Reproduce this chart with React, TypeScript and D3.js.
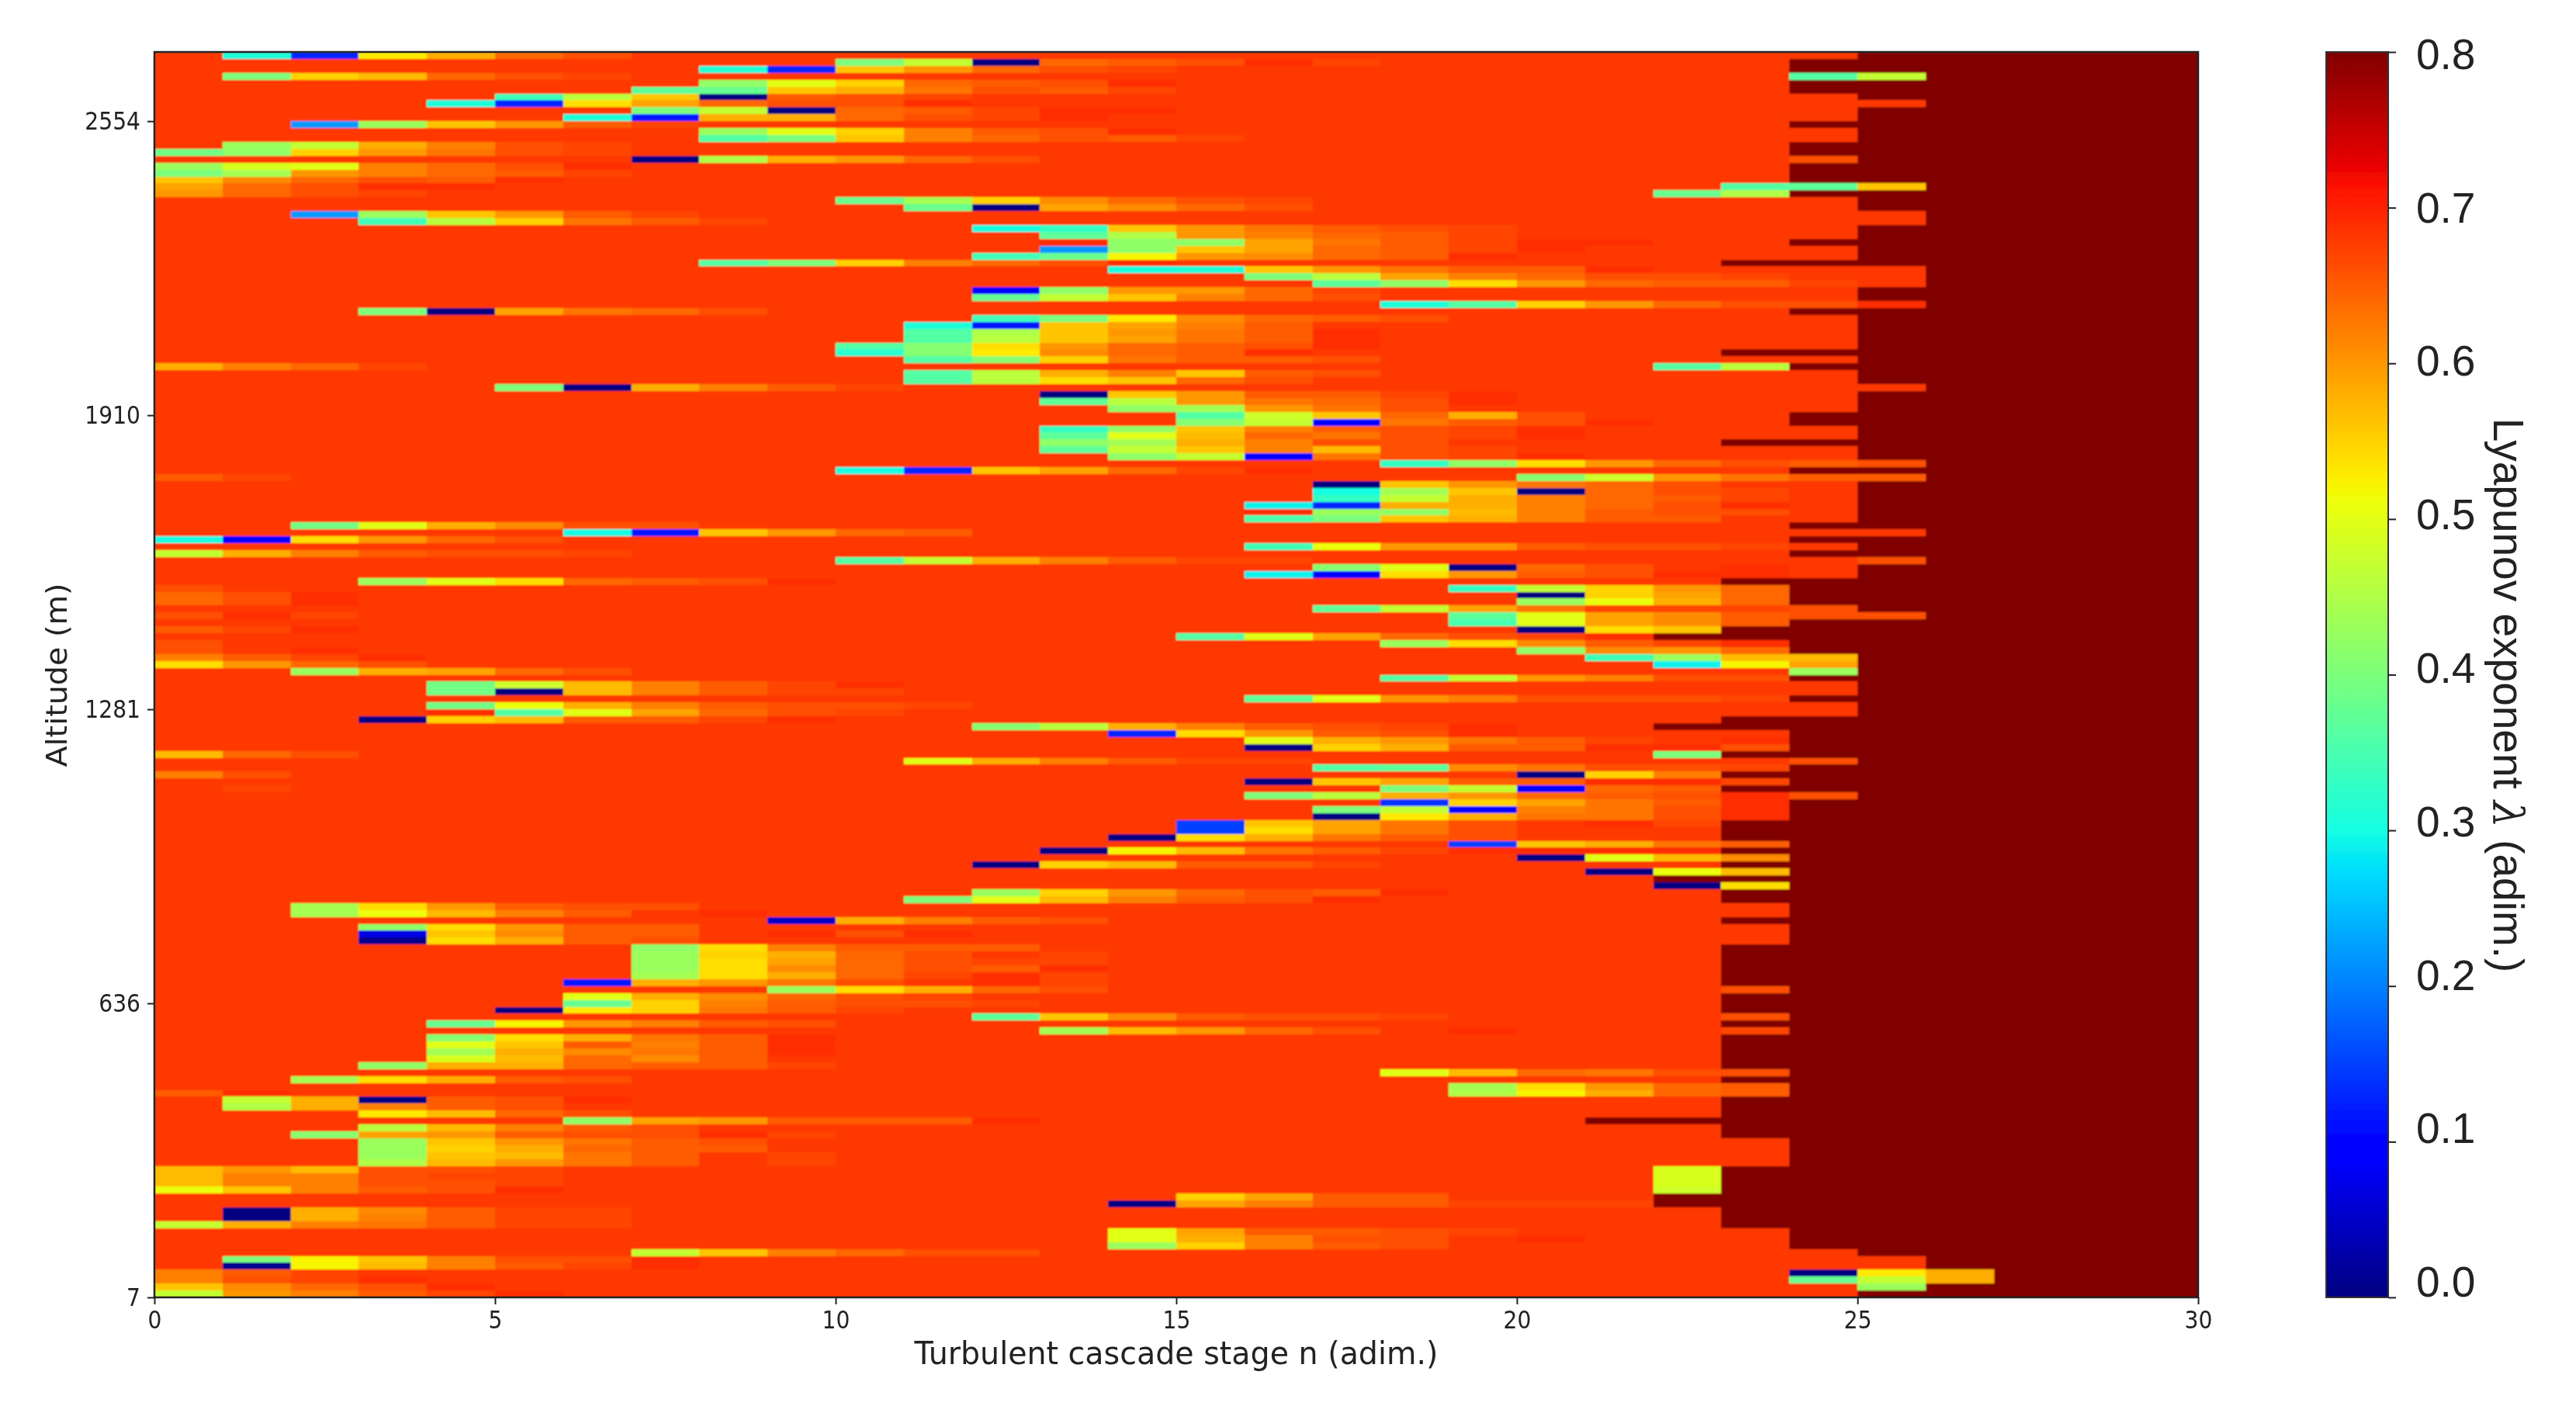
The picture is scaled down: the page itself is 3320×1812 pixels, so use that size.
import * as d3 from "d3";
import { useEffect, useRef } from "react";

// cascade stages (x) and altitude rows (y), row 0 is the top of the plot
const stageTicks = [0, 5, 10, 15, 20, 25, 30];
const altitudeLabels = ["7", "636", "1281", "1910", "2554"];
const altitudeTickRows = [0, 42.5, 85, 127.5, 170]; // counted from the bottom
const colorbarTicks = [0, 0.1, 0.2, 0.3, 0.4, 0.5, 0.6, 0.7, 0.8];
const rowCount = 180;
const stageCount = 30;
const backgroundValue = 0.68;
const saturatedValue = 0.8;

// first stage of each row where the exponent sits at its 0.8 plateau
const plateauStart = [
  25, 24, 24, 26, 24, 24, 25, 26, 25, 25, 24, 25, 25, 24, 24, 25, 24, 24, 24, 26,
  24, 25, 25, 26, 26, 25, 25, 24, 25, 25, 23, 26, 26, 26, 25, 25, 26, 24, 25, 25,
  25, 25, 25, 23, 25, 24, 25, 25, 26, 25, 25, 25, 24, 24, 25, 25, 23, 25, 25, 26,
  24, 26, 25, 25, 25, 25, 25, 25, 24, 26, 24, 25, 24, 26, 25, 25, 23, 24, 24, 24,
  25, 26, 24, 23, 22, 24, 24, 25, 25, 25, 24, 25, 25, 24, 25, 25, 23, 22, 24, 24,
  24, 23, 25, 24, 23, 24, 23, 25, 24, 24, 24, 23, 23, 23, 24, 23, 24, 23, 24, 22,
  24, 23, 23, 24, 24, 23, 24, 24, 24, 23, 23, 23, 23, 23, 23, 24, 23, 23, 23, 24,
  23, 24, 23, 23, 23, 23, 23, 24, 23, 24, 24, 23, 23, 23, 21, 23, 23, 24, 24, 24,
  24, 23, 23, 23, 23, 22, 22, 23, 23, 23, 24, 24, 24, 25, 26, 26, 27, 27, 26, 25,
];

// [row, first stage, lambda x 100 ...] runs that differ from the background
const runs: number[][] = [
  [0, 1, 31, 13, 53, 58, 64, 66],
  [1, 10, 40, 47, 0, 64, 65, 66, 69, 67],
  [2, 8, 31, 13, 56, 60, 64, 66, 67],
  [3, 1, 40, 55, 57, 64, 66, 67],
  [3, 24, 36, 47],
  [4, 8, 42, 50, 55, 64, 65, 66, 69],
  [5, 7, 37, 38, 56, 58, 63, 66, 65, 67],
  [6, 5, 34, 46, 56, 0, 65, 66, 67],
  [7, 4, 31, 13, 54, 59, 64, 66, 66, 69],
  [8, 7, 40, 47, 0, 64, 65, 67, 69, 69],
  [9, 6, 31, 12, 58, 58, 64, 66, 67, 69],
  [10, 2, 22, 43, 56, 60, 65, 67],
  [11, 8, 43, 50, 55, 62, 65, 66, 69],
  [12, 8, 36, 40, 56, 62, 64, 66, 65, 67],
  [13, 1, 43, 47, 58, 62, 66, 67],
  [14, 0, 39, 42, 55, 60, 63, 66, 67],
  [15, 7, 0, 45, 58, 60, 64, 66],
  [15, 24, 66],
  [16, 0, 43, 49, 50, 62, 64, 66, 69],
  [17, 0, 40, 44, 60, 62, 64, 65, 67],
  [18, 0, 56, 61, 64, 66, 65, 69],
  [19, 0, 59, 64, 66, 69, 69],
  [19, 23, 36, 37, 56],
  [20, 0, 60, 64, 66, 67],
  [20, 22, 38, 45],
  [21, 10, 38, 44, 55, 61, 64, 66, 67],
  [22, 11, 38, 0, 59, 61, 64, 66],
  [23, 2, 22, 43, 56, 60, 65, 67],
  [24, 3, 34, 46, 55, 63, 65, 67],
  [25, 12, 30, 33, 56, 60, 63, 65, 66, 67],
  [26, 13, 37, 45, 60, 62, 64, 65, 67],
  [27, 13, 69, 42, 42, 59, 63, 65, 67, 69, 69],
  [28, 13, 22, 42, 56, 59, 64, 65, 67, 69],
  [29, 12, 34, 38, 52, 60, 61, 64, 65, 69],
  [30, 8, 36, 40, 55, 62, 64, 66, 69],
  [31, 14, 30, 31, 56, 60, 63, 65, 65, 69],
  [32, 16, 40, 46, 59, 62, 64, 66, 66, 67],
  [33, 17, 37, 42, 54, 60, 64, 65, 65, 67],
  [34, 12, 9, 42, 60, 60, 64, 67],
  [35, 12, 38, 47, 56, 62, 64, 66],
  [36, 18, 31, 36, 55, 60, 64, 66, 66, 69],
  [37, 3, 40, 0, 59, 63, 64, 66],
  [38, 12, 34, 40, 53, 61, 64, 65, 66],
  [39, 11, 31, 12, 56, 59, 62, 65, 68],
  [40, 11, 36, 45, 56, 60, 63, 65, 69],
  [41, 11, 36, 46, 56, 59, 63, 65, 69],
  [42, 10, 36, 41, 54, 60, 64, 65, 66, 69],
  [43, 10, 32, 41, 53, 61, 64, 65, 69],
  [44, 11, 36, 41, 55, 63, 65, 65, 66],
  [45, 0, 58, 62, 64, 67],
  [45, 22, 36, 46],
  [46, 11, 36, 46, 58, 62, 56, 65, 66],
  [47, 11, 36, 46, 54, 56, 64, 66],
  [48, 5, 40, 0, 58, 62, 65, 67],
  [49, 13, 0, 56, 60, 65, 65, 67, 69],
  [50, 13, 37, 46, 60, 63, 64, 66, 69],
  [51, 14, 42, 44, 60, 63, 66, 68],
  [52, 15, 36, 48, 56, 64, 58, 66],
  [53, 15, 41, 47, 9, 63, 65, 66, 69],
  [54, 13, 33, 42, 56, 62, 65, 66, 67, 69],
  [55, 13, 37, 50, 57, 64, 63, 66, 67, 69],
  [56, 13, 42, 44, 58, 62, 66, 66, 68],
  [57, 13, 37, 47, 56, 62, 57, 66, 67],
  [58, 14, 42, 47, 9, 63, 66, 67, 69],
  [59, 18, 33, 42, 54, 60, 64, 66, 65, 66],
  [60, 10, 30, 13, 56, 59, 64, 67, 69],
  [61, 0, 65, 67],
  [61, 20, 41, 48, 60, 63, 65, 65],
  [62, 17, 0, 56, 60, 63, 64, 66],
  [63, 17, 30, 44, 56, 0, 64, 66, 67],
  [64, 17, 33, 47, 58, 62, 64, 65, 67],
  [65, 16, 29, 13, 58, 58, 62, 64, 66, 69],
  [66, 16, 69, 43, 42, 57, 62, 65, 66, 66],
  [67, 16, 35, 40, 56, 58, 62, 65, 65],
  [68, 2, 39, 50, 58, 61, 66, 66],
  [69, 6, 30, 12, 56, 60, 64, 65],
  [70, 0, 30, 9, 54, 60, 64, 66],
  [71, 16, 34, 51, 60, 60, 65, 66, 66, 67],
  [72, 0, 47, 58, 62, 65, 66, 66, 67],
  [73, 10, 36, 47, 58, 62, 65, 67, 67],
  [73, 25, 66],
  [74, 17, 41, 50, 0, 64, 66, 68, 69],
  [75, 16, 29, 9, 54, 60, 65, 66, 69, 69],
  [76, 3, 43, 50, 54, 64, 65, 66, 69],
  [77, 0, 66],
  [77, 19, 33, 47, 55, 60, 64],
  [78, 0, 64, 66, 69],
  [78, 20, 0, 55, 59, 64],
  [79, 0, 64, 66, 69],
  [79, 20, 43, 51, 58, 64],
  [80, 17, 37, 47, 59, 63, 67, 67, 67, 66],
  [81, 0, 66, 69, 67],
  [81, 19, 37, 50, 59, 61, 65, 66, 66],
  [82, 19, 35, 50, 59, 61, 65],
  [83, 0, 65, 67, 69],
  [83, 20, 0, 54, 56],
  [84, 15, 36, 50, 59, 64, 66, 67, 69],
  [85, 0, 66],
  [85, 18, 43, 54, 61, 65, 67, 69],
  [86, 0, 66, 68, 69],
  [86, 20, 42, 61, 60, 64],
  [87, 0, 62, 65, 67, 69],
  [87, 21, 34, 43, 57, 57],
  [88, 0, 54, 60, 64, 66],
  [88, 22, 29, 52, 59],
  [89, 2, 43, 58, 59, 64, 66],
  [89, 24, 43],
  [90, 18, 36, 47, 60, 62, 66, 66],
  [91, 4, 39, 48, 57, 62, 65, 67, 69],
  [92, 4, 39, 0, 57, 62, 65, 67, 67],
  [93, 16, 37, 50, 60, 62, 66, 66, 66, 67],
  [94, 4, 39, 51, 58, 62, 65, 66, 66, 67],
  [95, 4, 69, 36, 50, 59, 64, 66, 67],
  [96, 3, 0, 55, 57, 65, 65, 67, 69],
  [97, 12, 41, 46, 58, 62, 65, 66, 67, 69],
  [98, 14, 13, 54, 60, 65, 66, 69],
  [99, 16, 50, 58, 60, 63, 65, 67],
  [99, 23, 69],
  [100, 16, 0, 55, 58, 65, 65, 69, 69, 66],
  [101, 0, 57, 64, 66],
  [101, 22, 40],
  [102, 11, 50, 58, 62, 65, 67, 67],
  [102, 24, 66],
  [103, 17, 36, 37, 61, 63, 66, 66, 67],
  [104, 0, 62, 66],
  [104, 20, 0, 55, 62],
  [105, 16, 0, 56, 59, 65, 65, 69, 69, 67],
  [106, 1, 67],
  [106, 18, 40, 47, 9, 64, 65],
  [107, 16, 40, 46, 58, 60, 64, 65, 66, 69, 66],
  [108, 18, 14, 55, 59, 63, 65, 69],
  [109, 17, 40, 47, 9, 62, 63, 66, 69],
  [110, 17, 0, 53, 58, 63, 63, 66, 69],
  [111, 15, 15, 56, 59, 63, 66, 68, 69, 67],
  [112, 15, 15, 54, 59, 63, 66],
  [113, 14, 0, 54, 58, 63, 65, 66],
  [114, 19, 15, 56, 58, 63, 65],
  [115, 13, 0, 52, 57, 63, 65, 67, 69, 69, 69, 69],
  [116, 20, 0, 50, 57, 61],
  [117, 12, 0, 55, 57, 65, 65, 67],
  [118, 21, 0, 51, 57],
  [120, 22, 0, 54],
  [121, 12, 43, 55, 60, 64, 66, 65, 69],
  [122, 11, 40, 50, 57, 62, 65, 66, 69],
  [123, 2, 44, 54, 60, 65, 66, 66],
  [124, 2, 44, 51, 57, 62, 65, 68, 69],
  [125, 9, 5, 58, 62, 65, 66, 68],
  [126, 3, 42, 54, 60, 65, 65],
  [127, 3, 7, 56, 61, 65, 65],
  [127, 9, 69, 66, 69],
  [128, 3, 1, 54, 58, 65, 66],
  [129, 7, 42, 54, 62, 65, 65, 65],
  [130, 7, 43, 55, 58, 64, 66, 68, 67],
  [131, 7, 43, 54, 59, 64, 66, 67, 67],
  [132, 7, 43, 54, 61, 64, 66, 65, 69],
  [133, 7, 44, 54, 58, 64, 67, 69, 67],
  [134, 6, 12, 58, 60, 63, 66, 68, 69, 67],
  [135, 9, 43, 54, 58, 64, 66, 68],
  [135, 23, 66],
  [136, 6, 50, 58, 61, 64, 66, 67],
  [137, 6, 38, 55, 62, 65, 66, 66, 67],
  [138, 5, 0, 53, 55, 63, 65, 67],
  [139, 12, 37, 56, 61, 65, 66, 66, 67],
  [139, 23, 66],
  [140, 4, 38, 52, 60, 62, 65, 66],
  [141, 13, 44, 57, 60, 64, 66],
  [141, 19, 69],
  [141, 23, 67],
  [142, 4, 41, 54, 58, 63, 65, 69],
  [143, 4, 50, 56, 65, 62, 65, 69],
  [144, 4, 44, 58, 61, 63, 65, 69],
  [145, 4, 49, 57, 64, 61, 65, 68],
  [146, 3, 42, 58, 58, 64, 65, 65, 67],
  [147, 18, 50, 57, 64, 63, 66, 66],
  [148, 2, 44, 54, 58, 65, 66, 68],
  [149, 19, 44, 54, 60, 64, 65],
  [150, 0, 65, 69],
  [150, 19, 45, 52, 58, 64, 65],
  [151, 1, 47, 58, 0, 65, 66, 69],
  [152, 1, 45, 58, 62, 65, 66, 68],
  [153, 3, 53, 57, 64, 66],
  [154, 6, 42, 59, 60, 65, 65, 65, 69],
  [155, 3, 46, 57, 62, 65, 66],
  [156, 2, 41, 59, 60, 65, 66, 66, 69, 67],
  [157, 3, 43, 56, 60, 63, 65, 66],
  [158, 3, 43, 55, 58, 64, 65, 65],
  [159, 3, 43, 56, 57, 63, 65, 68, 67],
  [160, 3, 45, 57, 60, 63, 65, 68, 67],
  [161, 0, 57, 60, 57, 66, 66, 67],
  [161, 22, 49],
  [162, 0, 57, 62, 62, 66, 67, 67],
  [162, 22, 49],
  [163, 0, 57, 62, 62, 66, 66, 67],
  [163, 22, 49],
  [164, 0, 51, 56, 62, 65, 66, 69],
  [164, 22, 48],
  [165, 15, 55, 59, 65, 65, 68],
  [166, 14, 0, 59, 62, 65, 65, 67, 67, 67],
  [167, 1, 0, 58, 61, 65, 67, 67, 68],
  [168, 1, 0, 58, 62, 65, 67, 67, 68],
  [169, 0, 47, 58, 62, 63, 65, 67, 67],
  [170, 14, 50, 59, 65, 65, 66, 67, 68],
  [171, 14, 50, 58, 62, 66, 66, 68, 69],
  [172, 14, 43, 55, 62, 65, 66],
  [173, 7, 47, 56, 62, 64, 66, 66],
  [174, 1, 40, 52, 56, 62, 66, 66, 69, 68],
  [175, 1, 1, 52, 57, 62, 65, 67, 69],
  [176, 0, 62, 65, 67, 68],
  [176, 24, 0, 53, 58],
  [177, 0, 62, 66, 67, 69],
  [177, 24, 38, 47, 58],
  [178, 0, 56, 61, 64, 66, 69],
  [178, 25, 43],
  [179, 0, 47, 60, 62, 65, 67, 69],
];

// matplotlib jet, one piecewise channel each
const jetRed = d3.scaleLinear([0, 0.35, 0.66, 0.89, 1], [0, 0, 1, 1, 0.5]);
const jetGreen = d3.scaleLinear([0, 0.125, 0.375, 0.64, 0.91, 1], [0, 0, 1, 1, 0, 0]);
const jetBlue = d3.scaleLinear([0, 0.11, 0.34, 0.65, 1], [0.5, 1, 1, 0, 0]);

const jet = (t: number) =>
  d3.rgb(jetRed(t) * 255, jetGreen(t) * 255, jetBlue(t) * 255).formatHex();

const margin = { left: 199, right: 2833, top: 67, bottom: 1672 };
const barBox = { left: 2998, right: 3078 };

const App = () => {
  const chartRef = useRef<SVGSVGElement>(null);

  useEffect(() => {
    const svg = d3.select(chartRef.current);
    svg.selectAll("*").remove();

    const scaleX = d3.scaleLinear().domain([0, stageCount]).range([margin.left, margin.right]);
    const scaleRow = d3.scaleLinear().domain([0, rowCount]).range([margin.top, margin.bottom]);
    const scaleColor = d3.scaleLinear().domain([0, saturatedValue]).range([0, 1]);
    const scaleBar = d3.scaleLinear().domain([0, saturatedValue]).range([margin.bottom, margin.top]);
    // the colorbar labels sit on a slightly tighter spacing than their ticks in the original
    const scaleBarLabel = d3.scaleLinear().domain([0, saturatedValue]).range([1653, 70.7]);

    // grid filled from background + plateau + the read runs
    const grid = d3.range(rowCount).map((r) =>
      d3.range(stageCount).map((c) => (c >= plateauStart[r] ? saturatedValue : backgroundValue))
    );
    runs.forEach(([row, col, ...values]) => {
      values.forEach((v, i) => {
        grid[row][col + i] = v / 100;
      });
    });

    const defs = svg.append("defs");
    defs.append("filter").attr("id", "soft").attr("x", "-2%").attr("y", "-2%").attr("width", "104%").attr("height", "104%")
      .append("feGaussianBlur").attr("stdDeviation", 0.9);
    defs.append("filter").attr("id", "softText").attr("x", "-5%").attr("y", "-5%").attr("width", "110%").attr("height", "110%")
      .append("feGaussianBlur").attr("stdDeviation", 0.6);
    defs.append("clipPath").attr("id", "plotClip").append("rect")
      .attr("x", margin.left).attr("y", margin.top)
      .attr("width", margin.right - margin.left).attr("height", margin.bottom - margin.top);
    const gradient = defs.append("linearGradient").attr("id", "jetBar")
      .attr("x1", 0).attr("x2", 0).attr("y1", 1).attr("y2", 0);
    d3.range(0, 65).forEach((i) => {
      gradient.append("stop").attr("offset", i / 64).attr("stop-color", jet(i / 64));
    });

    const cells = svg.append("g").attr("clip-path", "url(#plotClip)")
      .append("g").attr("filter", "url(#soft)").attr("shape-rendering", "crispEdges");
    grid.forEach((rowValues, r) => {
      cells.selectAll(`.row-${r}`)
        .data(rowValues)
        .enter()
        .append("rect")
        .attr("x", (_, c) => scaleX(c))
        .attr("y", scaleRow(r))
        .attr("width", scaleX(1) - scaleX(0) + 0.5)
        .attr("height", scaleRow(1) - scaleRow(0) + 0.5)
        .attr("fill", (d) => jet(scaleColor(d)));
    });

    // axes
    const sans = "'DejaVu Sans'";
    const squeeze = 0.88;
    const ink = "#222";
    const frame = svg.append("g").attr("filter", "url(#softText)");

    const xAxis = frame.append("g")
      .attr("transform", `translate(0, ${margin.bottom})`)
      .call(d3.axisBottom(scaleX).tickValues(stageTicks).tickFormat(d3.format("d")).tickSize(9).tickPadding(8).tickSizeOuter(0));
    xAxis.selectAll("text")
      .style("font-family", sans).style("font-size", "32px").attr("fill", ink)
      .attr("textLength", (d: any) => String(d).length * 32 * 0.636 * squeeze)
      .attr("lengthAdjust", "spacingAndGlyphs");

    const scaleAltitude = d3.scaleLinear().domain([0, rowCount]).range([margin.bottom, margin.top]);
    const yAxis = frame.append("g")
      .attr("transform", `translate(${margin.left}, 0)`)
      .call(d3.axisLeft(scaleAltitude).tickValues(altitudeTickRows)
        .tickFormat((_, i) => altitudeLabels[i]).tickSize(9).tickPadding(9).tickSizeOuter(0));
    yAxis.selectAll("text")
      .style("font-family", sans).style("font-size", "32px").attr("fill", ink)
      .attr("textLength", (_: any, i: number) => altitudeLabels[i].length * 32 * 0.636 * squeeze)
      .attr("lengthAdjust", "spacingAndGlyphs");
    [xAxis, yAxis].forEach((a) => {
      a.select(".domain").remove();
      a.selectAll("line").attr("stroke", ink).attr("stroke-width", 2);
    });

    frame.append("rect")
      .attr("x", margin.left).attr("y", margin.top)
      .attr("width", margin.right - margin.left).attr("height", margin.bottom - margin.top)
      .attr("fill", "none").attr("stroke", "#222").attr("stroke-width", 2.5);

    frame.append("text")
      .attr("x", (margin.left + margin.right) / 2).attr("y", 1758)
      .attr("text-anchor", "middle")
      .attr("textLength", 675).attr("lengthAdjust", "spacingAndGlyphs")
      .style("font-family", sans).style("font-size", "41px").attr("fill", ink)
      .text("Turbulent cascade stage n (adim.)");

    frame.append("text")
      .attr("transform", "translate(86, 870) rotate(-90)")
      .attr("text-anchor", "middle")
      .attr("textLength", 237).attr("lengthAdjust", "spacingAndGlyphs")
      .style("font-family", sans).style("font-size", "38px").attr("fill", ink)
      .text("Altitude (m)");

    // colorbar
    frame.append("rect")
      .attr("x", barBox.left).attr("y", margin.top)
      .attr("width", barBox.right - barBox.left).attr("height", margin.bottom - margin.top)
      .attr("fill", "url(#jetBar)").attr("stroke", "#333").attr("stroke-width", 2);

    const barAxis = frame.append("g")
      .attr("transform", `translate(${barBox.right}, 0)`)
      .call(d3.axisRight(scaleBar).tickValues(colorbarTicks).tickFormat(d3.format(".1f")).tickSize(10).tickPadding(26).tickSizeOuter(0));
    barAxis.select(".domain").remove();
    barAxis.selectAll("line").attr("stroke", ink).attr("stroke-width", 2);
    barAxis.selectAll("text")
      .attr("y", (d: any) => scaleBarLabel(d) - scaleBar(d))
      .style("font-family", "'Liberation Sans'").style("font-size", "55px").attr("fill", ink);

    const barLabel = frame.append("text")
      .attr("transform", "translate(3214, 896) rotate(90)")
      .attr("text-anchor", "middle")
      .style("font-family", "'Liberation Sans'").style("font-size", "55px").attr("fill", ink);
    barLabel.append("tspan").text("Lyapunov exponent ");
    barLabel.append("tspan").style("font-style", "italic").style("font-family", "'DejaVu Serif'").text("λ");
    barLabel.append("tspan").text(" (adim.)");
  }, []);

  return (
    <svg
      ref={chartRef}
      width={3320}
      height={1812}
      style={{ position: "absolute", left: 0, top: 0, background: "#fff" }}
    />
  );
};

export default App;
